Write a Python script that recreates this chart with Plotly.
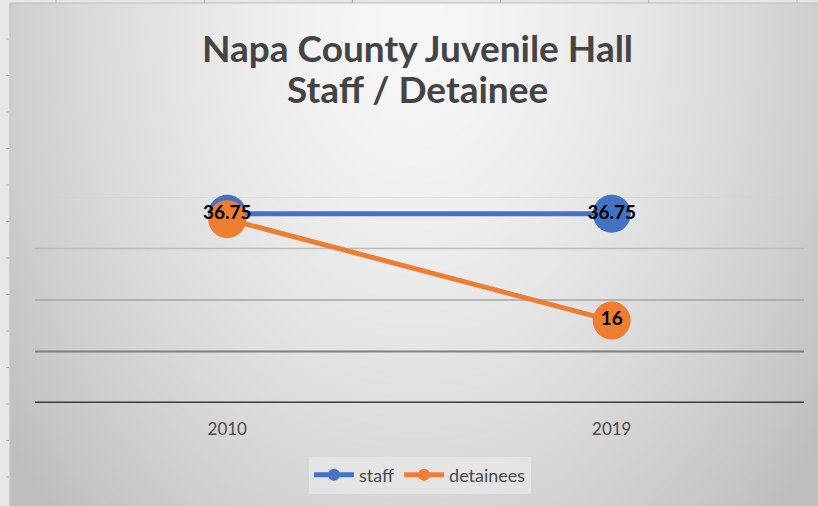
import base64, struct, zlib
import numpy as np
import plotly.graph_objects as go

# ---- data ----
years = ["2010", "2019"]
staff = [36.75, 36.75]
detainees = [35.7, 16]
staff_labels = ["36.75", "36.75"]
detainee_labels = ["", "16"]
grid_values = [0, 10, 20, 30, 40]
title_lines = ["Napa County Juvenile Hall", "Staff / Detainee"]

W, H = 818, 506
PL, PR, PT, PB = 35, 804, 197, 403  # plot area pixels

BLUE = "#4472C4"
ORANGE = "#ED7D31"
GRAY_TXT = "#4a4a4a"

# ---- background gradient image (radial grey, like Excel chart area) ----
cx0, cy0, cx1, cy1 = 10, 3, 818, 506
xs = np.arange(cx0, cx1) + 0.5
ys = np.arange(cy0, cy1) + 0.5
X, Y = np.meshgrid(xs, ys)
r = np.sqrt(((X - 414) / 430) ** 2 + ((Y - 30) / 580) ** 2)
img = np.clip(247 - 44 * r ** 1.5, 190, 250).astype(np.uint8)


def png_gray(arr):
    h, w = arr.shape
    raw = b"".join(b"\x00" + arr[i].tobytes() for i in range(h))

    def chunk(t, d):
        c = struct.pack(">I", len(d)) + t + d
        return c + struct.pack(">I", zlib.crc32(t + d) & 0xFFFFFFFF)

    ihdr = struct.pack(">IIBBBBB", w, h, 8, 0, 0, 0, 0)
    return (b"\x89PNG\r\n\x1a\n" + chunk(b"IHDR", ihdr)
            + chunk(b"IDAT", zlib.compress(raw, 9)) + chunk(b"IEND", b""))


uri = "data:image/png;base64," + base64.b64encode(png_gray(img)).decode()

pw, ph = PR - PL, PB - PT


def px2x(px):
    return (px - PL) / pw


def py2y(py):
    return (PB - py) / ph


fig = go.Figure()

fig.add_trace(go.Scatter(
    x=years, y=staff, name="staff", mode="lines+markers",
    line=dict(color=BLUE, width=5),
    marker=dict(color=BLUE, size=38),
    legendrank=1, cliponaxis=False, hoverinfo="skip"))

fig.add_trace(go.Scatter(
    x=years, y=detainees, name="detainees", mode="lines+markers+text",
    text=detainee_labels, textposition="middle center",
    textfont=dict(family="Lato", size=19, color="#000000", weight="bold"),
    line=dict(color=ORANGE, width=5),
    marker=dict(color=ORANGE, size=38),
    legendrank=2, cliponaxis=False, hoverinfo="skip"))

fig.add_trace(go.Scatter(
    x=years, y=staff, mode="text", text=staff_labels,
    textposition="middle center",
    textfont=dict(family="Lato", size=19, color="#000000", weight="bold"),
    showlegend=False, cliponaxis=False, hoverinfo="skip"))

# gridlines with Excel-screenshot-like shading
grid_styles = {0: ("#3c3c3c", 3), 10: ("#808080", 2), 20: ("#a4a4a4", 1.6),
               30: ("#bcbcbc", 1.3), 40: ("#cfcfcf", 1.1)}
shapes = []
for v in grid_values:
    col, wd = grid_styles[v]
    shapes.append(dict(type="line", xref="paper", yref="y", x0=0, x1=1,
                       y0=v, y1=v, line=dict(color=col, width=wd), layer="below"))

# chart border
shapes.append(dict(type="rect", xref="paper", yref="paper",
                   x0=px2x(cx0), x1=px2x(cx1 + 2), y0=py2y(cy1 + 2), y1=py2y(cy0),
                   line=dict(color="#bdbdbd", width=1), layer="below"))
# spreadsheet row/column marks
for k in range(13):
    yy = 39 + 36.5 * k
    shapes.append(dict(type="line", xref="paper", yref="paper",
                       x0=px2x(6), x1=px2x(9), y0=py2y(yy), y1=py2y(yy),
                       line=dict(color="#b0b0b0", width=1), layer="below"))
for k in range(6):
    xx = 56 + 148.2 * k
    shapes.append(dict(type="line", xref="paper", yref="paper",
                       x0=px2x(xx), x1=px2x(xx), y0=py2y(0), y1=py2y(3),
                       line=dict(color="#b0b0b0", width=1), layer="below"))

# title as two lines (Excel line spacing is tighter than plotly's)
title_y = [47, 88]
annotations = []
for txt, ty in zip(title_lines, title_y):
    annotations.append(dict(text="<b>" + txt + "</b>", xref="paper", yref="paper",
                            x=px2x(417), y=py2y(ty), xanchor="center", yanchor="middle",
                            showarrow=False,
                            font=dict(family="Lato", size=37, color="#444444")))

fig.update_layout(
    width=W, height=H,
    margin=dict(l=PL, r=W - PR, t=PT, b=H - PB, pad=0),
    paper_bgcolor="#e6e6e6",
    plot_bgcolor="rgba(0,0,0,0)",
    images=[dict(source=uri, xref="paper", yref="paper",
                 x=px2x(cx0), y=py2y(cy0), sizex=(cx1 - cx0) / pw,
                 sizey=(cy1 - cy0) / ph, xanchor="left", yanchor="top",
                 sizing="stretch", layer="below")],
    shapes=shapes,
    annotations=annotations,
    xaxis=dict(type="category", categoryorder="array", categoryarray=years,
               range=[-0.5, 1.5], showgrid=False, zeroline=False, showline=False,
               ticks="", ticklabelstandoff=14,
               tickfont=dict(family="Lato", size=17, color=GRAY_TXT)),
    yaxis=dict(range=[0, 40], showgrid=False, zeroline=False, showline=False,
               showticklabels=False, ticks=""),
    legend=dict(orientation="h", xref="container", yref="container",
                x=420 / W, xanchor="center", y=1 - 475 / H, yanchor="middle",
                bgcolor="rgba(238,238,238,0.55)", itemsizing="constant",
                font=dict(family="Lato", size=18, color=GRAY_TXT),
                itemwidth=40, tracegroupgap=0),
    showlegend=True,
)

fig.write_html("out.html")
